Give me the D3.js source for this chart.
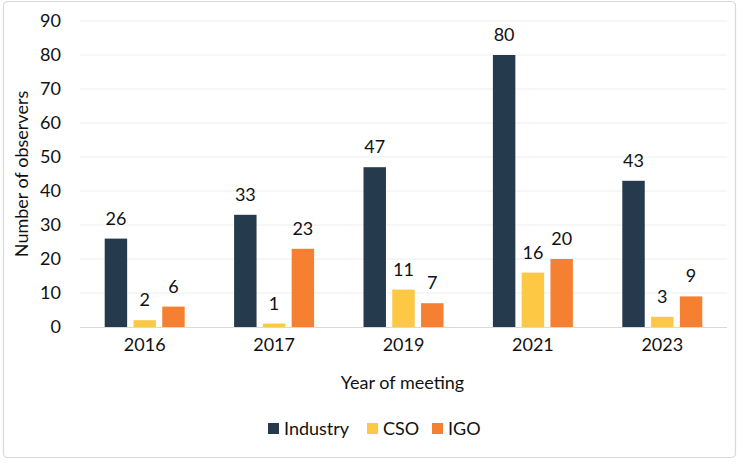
<!DOCTYPE html>
<html><head><meta charset="utf-8">
<script src="https://cdn.jsdelivr.net/npm/d3@7"></script>
<style>body{margin:0;background:#fff;} text{font-family:Lato,"Open Sans",sans-serif;}</style>
</head><body><svg id="c" width="744" height="465"></svg>
<script>
const years = ["2016","2017","2019","2021","2023"];
const seriesNames = ["Industry","CSO","IGO"];
const industry = [26,33,47,80,43];
const cso = [2,1,11,16,3];
const igo = [6,23,7,20,9];
const yTicks = [0,10,20,30,40,50,60,70,80,90];
const colors = ["#253A4C","#FDC844","#F58031"];
const values = [industry, cso, igo];
const FS = 18;

const svg = d3.select("#c");
svg.append("rect").attr("x",3.5).attr("y",1.5).attr("width",732).attr("height",456)
  .attr("rx",4).attr("fill","#fff").attr("stroke","#D9D9D9").attr("stroke-width",1.2);

const L=80,R=727,T=21,B=327;
const x0 = d3.scaleBand().domain(years).range([L,R]);
const x1 = d3.scaleBand().domain(seriesNames).range([0,80]).paddingInner(0.22);
const y = d3.scaleLinear().domain([0,90]).range([B,T]);

// grid
svg.append("g").selectAll("line").data(yTicks.filter(d=>d>0)).join("line")
  .attr("x1",L).attr("x2",R).attr("y1",d=>y(d)).attr("y2",d=>y(d))
  .attr("stroke","#EEEEEE").attr("stroke-width",1);

// y axis
const ya = svg.append("g").attr("transform",`translate(${L},0)`)
  .call(d3.axisLeft(y).tickValues(yTicks).tickSize(0).tickPadding(19));
ya.select(".domain").remove();
ya.selectAll("text").attr("font-size",FS).attr("fill","#111").attr("font-family","Lato");

// bars
const g = svg.append("g");
years.forEach((yr,i)=>{
  const gx = x0(yr) + (x0.bandwidth()-80)/2;
  seriesNames.forEach((s,j)=>{
    const v = values[j][i];
    g.append("rect").attr("x",gx+x1(s)).attr("y",y(v)).attr("width",x1.bandwidth())
      .attr("height",y(0)-y(v)).attr("fill",colors[j]);
    g.append("text").attr("x",gx+x1(s)+x1.bandwidth()/2).attr("y",y(v)-14)
      .attr("text-anchor","middle").attr("font-size",FS).attr("fill","#111").text(v);
  });
});

// x axis
svg.append("line").attr("x1",L).attr("x2",R).attr("y1",B+0.5).attr("y2",B+0.5)
  .attr("stroke","#D9D9D9").attr("stroke-width",1.2);
const xa = svg.append("g").attr("transform",`translate(0,${B})`)
  .call(d3.axisBottom(x0).tickSize(0).tickPadding(11));
xa.select(".domain").remove();
xa.selectAll("text").attr("font-size",FS).attr("fill","#111").attr("font-family","Lato");

// titles
svg.append("text").attr("x",(L+R)/2-1).attr("y",389).attr("text-anchor","middle")
  .attr("font-size",FS).attr("fill","#111").text("Year of meeting");
svg.append("text").attr("transform",`translate(28,${(T+B)/2}) rotate(-90)`)
  .attr("text-anchor","middle").attr("font-size",FS).attr("fill","#111").text("Number of observers");

// legend
const legX = [268,367,432];
seriesNames.forEach((s,j)=>{
  svg.append("rect").attr("x",legX[j]).attr("y",423).attr("width",11).attr("height",11).attr("fill",colors[j]);
  svg.append("text").attr("x",legX[j]+16).attr("y",435).attr("font-size",FS).attr("fill","#111").text(s);
});
</script></body></html>
